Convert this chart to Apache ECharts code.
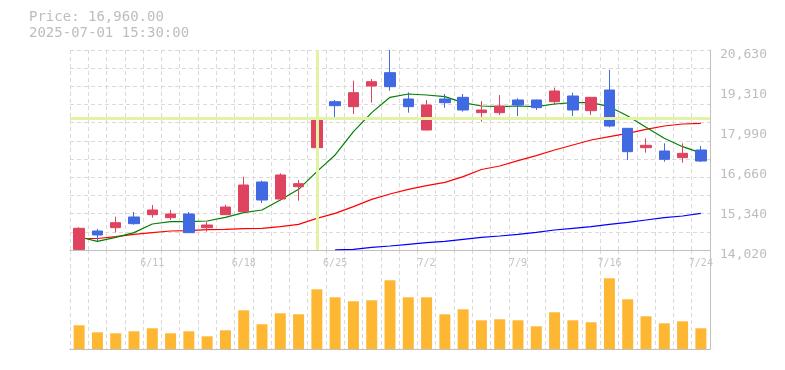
<!DOCTYPE html>
<html>
<head>
<meta charset="utf-8">
<script src="https://cdn.jsdelivr.net/npm/echarts@6/dist/echarts.min.js"></script>
<style>
html,body{margin:0;padding:0;background:#fff;}
#chart{width:785px;height:370px;}
</style>
</head>
<body>
<div id="chart"></div>
<script>
var dates = ['6/5','6/6','6/9','6/10','6/11','6/12','6/13','6/16','6/17','6/18','6/19','6/20','6/23','6/24','6/25','6/26','6/27','6/30','7/1','7/2','7/3','7/4','7/7','7/8','7/9','7/10','7/11','7/14','7/15','7/16','7/17','7/18','7/22','7/23','7/24'];
var openP  = [14040,14648,14758,15111,15188,15089,15210,14758,15188,15287,16267,15706,16113,17402,18922,18757,19440,19881,19011,17986,19011,19066,18559,18559,18978,18978,18922,19110,18625,19308,18041,17402,17292,17072,17325];
var closeP = [14737,14516,14923,14890,15342,15210,14593,14846,15441,16168,15672,16499,16212,18393,18790,19220,19583,19418,18757,18812,18889,18647,18647,18779,18812,18724,19275,18647,19066,18118,17270,17479,17017,17215,16960];
var lowP   = [14025,14317,14604,14857,15089,15012,14580,14626,15180,15280,15573,15650,15650,17105,18350,18515,18889,19286,18559,17980,18724,18592,18261,18482,18449,18647,18812,18449,18482,18074,16995,17237,16939,16906,16930];
var highP  = [14770,14714,15122,15276,15507,15342,15276,14956,15518,16444,16311,16554,16334,18400,18978,19616,19672,20630,19231,18978,19176,19176,18944,19143,19033,18990,19385,19220,19080,19969,18050,17711,17545,17545,17457];
var ma5  = [14450,14306,14439,14593,14879,14956,14956,14978,15100,15254,15342,15672,16025,16609,17160,17931,18559,19066,19176,19143,19088,18889,18779,18757,18779,18757,18845,18889,18889,18757,18449,18074,17711,17435,17230];
var ma25 = [14400,14400,14460,14537,14593,14648,14659,14692,14703,14725,14736,14795,14868,15067,15232,15452,15695,15871,16025,16146,16256,16444,16680,16796,16972,17138,17325,17490,17655,17766,17876,18008,18118,18184,18206];
var ma75 = [null,null,null,null,null,null,null,null,null,null,null,null,null,null,14025,14042,14108,14152,14207,14262,14306,14372,14438,14482,14537,14604,14681,14736,14791,14868,14934,15012,15089,15144,15232];
var volume = [237,167,157,177,207,157,177,127,187,387,247,357,347,597,517,477,487,687,517,517,347,397,287,297,287,227,367,287,267,707,497,327,257,277,207];
var yTickLabels = ['14,020','15,340','16,660','17,990','19,310','20,630'];
var priceMin = 14020, priceMax = 20630;
var crossDate = '6/24', crossPrice = 18380;
var infoLines = ['Price: 16,960.00', '2025-07-01 15:30:00'];

var candleData = dates.map(function(d, i){ return [openP[i], closeP[i], lowP[i], highP[i]]; });

var gridLine = {show:true, lineStyle:{color:'#dadada', type:[4,3], width:1}};
var axisGray = '#c0c0c0';
var mono = '"DejaVu Sans Mono", "Liberation Mono", monospace';

var chart = echarts.init(document.getElementById('chart'), null, {renderer:'canvas'});
chart.setOption({
  animation:false,
  backgroundColor:'#fff',
  graphic:[{
    type:'text', left:29, top:9,
    style:{text: infoLines.join('\n'), font:'14px ' + mono, fill:'#bdbdbd', lineHeight:16}
  }],
  grid:[
    {left:70, right:75, top:50, height:200},
    {left:70, right:75, top:250, height:99},
    {left:70, right:75, top:55, height:200}
  ],
  xAxis:[
    {type:'category', gridIndex:0, data:dates, boundaryGap:true,
     axisLine:{show:true, lineStyle:{color:axisGray}}, axisTick:{show:false},
     axisLabel:{show:true, interval:function(i){return i % 5 === 4;}, color:'#c4c4c4', fontFamily:mono, fontSize:10, margin:8},
     splitLine:Object.assign({interval:0}, gridLine)},
    {type:'category', gridIndex:1, data:dates, boundaryGap:true,
     axisLine:{show:true, lineStyle:{color:axisGray}}, axisTick:{show:false}, axisLabel:{show:false},
     splitLine:Object.assign({interval:0}, gridLine)},
    {type:'category', gridIndex:2, data:dates, show:false}
  ],
  yAxis:[
    {type:'value', gridIndex:0, min:priceMin, max:priceMax, show:false, splitLine:{show:false}},
    {type:'value', gridIndex:0, min:0, max:11, interval:1, position:'right',
     axisLine:{show:true, lineStyle:{color:axisGray}}, axisTick:{show:false}, axisLabel:{show:false}, splitLine:gridLine},
    {type:'value', gridIndex:2, min:0, max:5, interval:1, position:'right',
     axisLine:{show:false}, axisTick:{show:false}, splitLine:{show:false},
     axisLabel:{show:true, color:'#bdbdbd', fontFamily:mono, fontSize:13, margin:10,
       formatter:function(v){ return yTickLabels[Math.round(v)]; }}},
    {type:'value', gridIndex:1, min:0, max:990, position:'right',
     axisLine:{show:true, lineStyle:{color:axisGray}}, axisTick:{show:false}, axisLabel:{show:false}, splitLine:{show:false}}
  ],
  series:[
    {type:'line', name:'MA75', xAxisIndex:0, yAxisIndex:0, data:ma75, symbol:'none', z:1,
     lineStyle:{color:'#0000ff', width:1.2},
     markLine:{silent:true, symbol:'none', label:{show:false}, animation:false,
       lineStyle:{color:'#e3f3a5', width:3, type:'solid'},
       data:[{xAxis:crossDate}, {yAxis:crossPrice}]}},
    {type:'line', name:'MA25', xAxisIndex:0, yAxisIndex:0, data:ma25, symbol:'none', z:2,
     lineStyle:{color:'#ff0000', width:1.2}},
    {type:'line', name:'MA5', xAxisIndex:0, yAxisIndex:0, data:ma5, symbol:'none', z:2,
     lineStyle:{color:'#008000', width:1.2}},
    {type:'candlestick', name:'Price', xAxisIndex:0, yAxisIndex:0, data:candleData, barWidth:11, z:3,
     itemStyle:{color:'#e0435f', color0:'#4169e1', borderColor:'#e0435f', borderColor0:'#4169e1', borderWidth:1}},
    {type:'bar', name:'Volume', xAxisIndex:1, yAxisIndex:3, data:volume, barWidth:11,
     itemStyle:{color:'#fdb733'}}
  ]
});
</script>
</body>
</html>
